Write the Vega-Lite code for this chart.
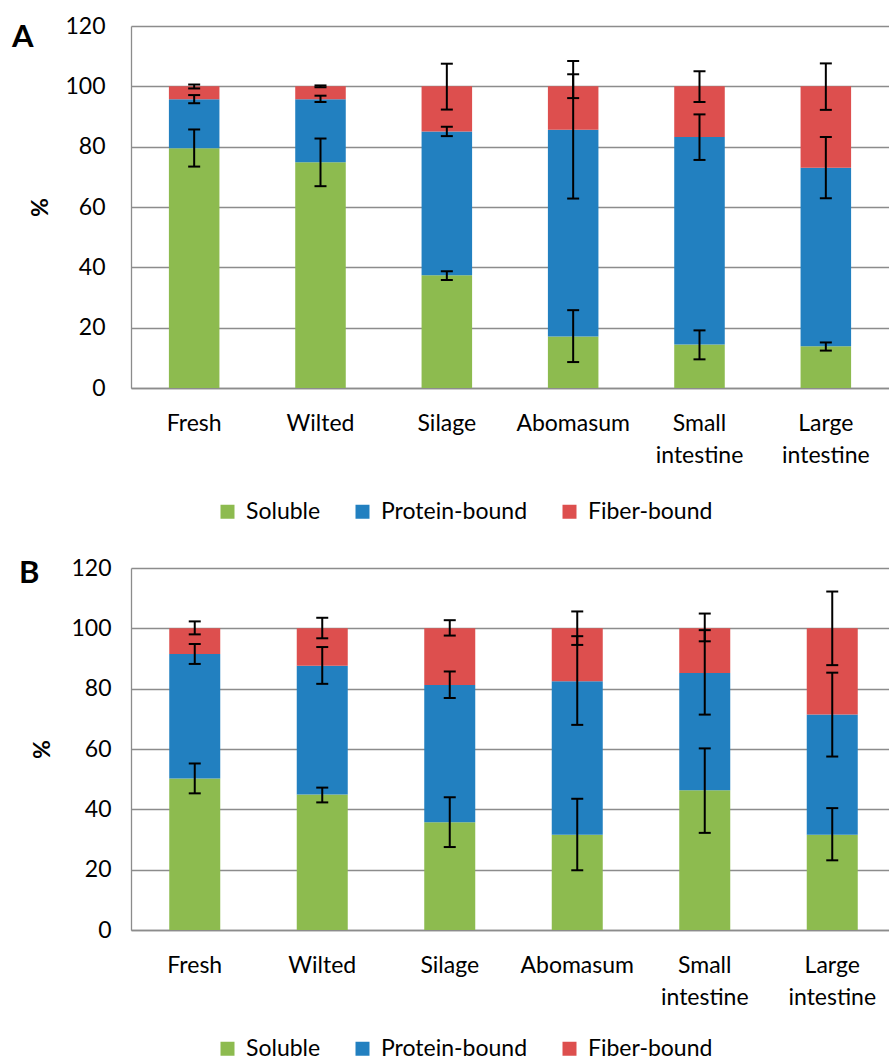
{
  "$schema": "https://vega.github.io/schema/vega-lite/v6.json",
  "padding": {"left": 12, "top": 15, "right": 0, "bottom": 0},
  "background": "white",
  "datasets": {
    "a": [
      {"stage": "Fresh", "comp": "Soluble", "ord": 1, "value": 79.5, "lo": 73.4, "hi": 85.7},
      {"stage": "Fresh", "comp": "Protein-bound", "ord": 2, "value": 16.2, "lo": 94.4, "hi": 97.1},
      {"stage": "Fresh", "comp": "Fiber-bound", "ord": 3, "value": 4.3, "lo": 99.3, "hi": 100.6},
      {"stage": "Wilted", "comp": "Soluble", "ord": 1, "value": 74.8, "lo": 66.9, "hi": 82.7},
      {"stage": "Wilted", "comp": "Protein-bound", "ord": 2, "value": 20.9, "lo": 94.8, "hi": 96.9},
      {"stage": "Wilted", "comp": "Fiber-bound", "ord": 3, "value": 4.3, "lo": 99.7, "hi": 100.3},
      {"stage": "Silage", "comp": "Soluble", "ord": 1, "value": 37.4, "lo": 35.8, "hi": 38.7},
      {"stage": "Silage", "comp": "Protein-bound", "ord": 2, "value": 47.6, "lo": 83.5, "hi": 86.6},
      {"stage": "Silage", "comp": "Fiber-bound", "ord": 3, "value": 15.0, "lo": 92.3, "hi": 107.5},
      {"stage": "Abomasum", "comp": "Soluble", "ord": 1, "value": 17.1, "lo": 8.6, "hi": 25.8},
      {"stage": "Abomasum", "comp": "Protein-bound", "ord": 2, "value": 68.5, "lo": 62.8, "hi": 108.4},
      {"stage": "Abomasum", "comp": "Fiber-bound", "ord": 3, "value": 14.4, "lo": 96.1, "hi": 104.0},
      {"stage": "Small intestine", "comp": "Soluble", "ord": 1, "value": 14.4, "lo": 9.5, "hi": 19.1},
      {"stage": "Small intestine", "comp": "Protein-bound", "ord": 2, "value": 68.8, "lo": 75.6, "hi": 90.7},
      {"stage": "Small intestine", "comp": "Fiber-bound", "ord": 3, "value": 16.8, "lo": 94.8, "hi": 105.0},
      {"stage": "Large intestine", "comp": "Soluble", "ord": 1, "value": 13.8, "lo": 12.4, "hi": 15.1},
      {"stage": "Large intestine", "comp": "Protein-bound", "ord": 2, "value": 59.2, "lo": 62.9, "hi": 83.2},
      {"stage": "Large intestine", "comp": "Fiber-bound", "ord": 3, "value": 27.0, "lo": 92.2, "hi": 107.6}
    ],
    "b": [
      {"stage": "Fresh", "comp": "Soluble", "ord": 1, "value": 50.2, "lo": 45.3, "hi": 55.2},
      {"stage": "Fresh", "comp": "Protein-bound", "ord": 2, "value": 41.3, "lo": 88.2, "hi": 94.8},
      {"stage": "Fresh", "comp": "Fiber-bound", "ord": 3, "value": 8.5, "lo": 98.0, "hi": 102.3},
      {"stage": "Wilted", "comp": "Soluble", "ord": 1, "value": 44.9, "lo": 42.3, "hi": 47.2},
      {"stage": "Wilted", "comp": "Protein-bound", "ord": 2, "value": 42.7, "lo": 81.6, "hi": 93.8},
      {"stage": "Wilted", "comp": "Fiber-bound", "ord": 3, "value": 12.4, "lo": 96.7, "hi": 103.5},
      {"stage": "Silage", "comp": "Soluble", "ord": 1, "value": 35.7, "lo": 27.5, "hi": 44.0},
      {"stage": "Silage", "comp": "Protein-bound", "ord": 2, "value": 45.5, "lo": 76.9, "hi": 85.7},
      {"stage": "Silage", "comp": "Fiber-bound", "ord": 3, "value": 18.8, "lo": 97.6, "hi": 102.7},
      {"stage": "Abomasum", "comp": "Soluble", "ord": 1, "value": 31.6, "lo": 19.8, "hi": 43.5},
      {"stage": "Abomasum", "comp": "Protein-bound", "ord": 2, "value": 50.9, "lo": 68.0, "hi": 97.4},
      {"stage": "Abomasum", "comp": "Fiber-bound", "ord": 3, "value": 17.5, "lo": 94.5, "hi": 105.6},
      {"stage": "Small intestine", "comp": "Soluble", "ord": 1, "value": 46.3, "lo": 32.2, "hi": 60.2},
      {"stage": "Small intestine", "comp": "Protein-bound", "ord": 2, "value": 38.9, "lo": 71.4, "hi": 99.4},
      {"stage": "Small intestine", "comp": "Fiber-bound", "ord": 3, "value": 14.8, "lo": 95.7, "hi": 104.9},
      {"stage": "Large intestine", "comp": "Soluble", "ord": 1, "value": 31.6, "lo": 23.1, "hi": 40.4},
      {"stage": "Large intestine", "comp": "Protein-bound", "ord": 2, "value": 39.8, "lo": 57.5, "hi": 85.3},
      {"stage": "Large intestine", "comp": "Fiber-bound", "ord": 3, "value": 28.6, "lo": 87.8, "hi": 112.2}
    ]
  },
  "config": {
    "font": "Lato",
    "view": {"stroke": null},
    "axis": {
      "labelFont": "Lato", "labelFontSize": 23, "labelColor": "#000000",
      "titleFont": "Lato", "titleColor": "#000000",
      "gridColor": "#8c8c8c", "gridWidth": 1.3, "gridOpacity": 1,
      "domainColor": "#8c8c8c", "domainWidth": 1.3,
      "ticks": false
    },
    "axisX": {"labelAngle": 0, "labelPadding": 24, "labelLineHeight": 32, "title": null, "grid": false},
    "title": {"font": "Lato", "fontSize": 31, "fontWeight": "bold", "anchor": "start", "frame": "group", "color": "#000000", "offset": 0, "baseline": "alphabetic"},
    "legend": {
      "orient": "none", "direction": "horizontal",
      "labelFont": "Lato", "labelFontSize": 23, "labelColor": "#000000",
      "symbolType": "square", "symbolSize": 196, "symbolStrokeWidth": 0, "symbolOpacity": 1,
      "labelOffset": 7, "columnPadding": 30, "legendX": 85, "legendY": 474
    }
  },
  "resolve": {"scale": {"color": "independent"}, "legend": {"color": "independent"}},
  "spacing": 33,
  "vconcat": [
    {
      "width": 758, "height": 362,
      "title": {"text": "A", "dx": -119, "dy": 43},
      "data": {"name": "a"},
      "layer": [
        {
          "mark": {"type": "bar"},
          "encoding": {
            "x": {"field": "stage", "type": "nominal", "sort": ["Fresh", "Wilted", "Silage", "Abomasum", "Small intestine", "Large intestine"], "scale": {"paddingInner": 0.6, "paddingOuter": 0.3}, "axis": {"labelExpr": "split(datum.label, ' ')"}},
            "y": {"field": "value", "type": "quantitative", "stack": "zero", "scale": {"domain": [0, 120], "nice": false}, "axis": {"values": [0, 20, 40, 60, 80, 100, 120], "title": "%", "titleFontWeight": "bold", "titleFontSize": 23, "titleX": -91, "titleBaseline": "middle", "labelPadding": 26, "grid": true}},
            "color": {"field": "comp", "type": "nominal", "scale": {"domain": ["Soluble", "Protein-bound", "Fiber-bound"], "range": ["#8DBB4F", "#2280C0", "#DD4F4E"]}, "legend": {"title": null}},
            "order": {"field": "ord"}
          }
        },
        {
          "mark": {"type": "rule", "strokeWidth": 2, "color": "#000000"},
          "encoding": {
            "x": {"field": "stage", "type": "nominal", "sort": ["Fresh", "Wilted", "Silage", "Abomasum", "Small intestine", "Large intestine"]},
            "y": {"field": "lo", "type": "quantitative", "title": "%"},
            "y2": {"field": "hi"}
          }
        },
        {
          "mark": {"type": "tick", "size": 12, "thickness": 2, "color": "#000000", "opacity": 1},
          "encoding": {
            "x": {"field": "stage", "type": "nominal", "sort": ["Fresh", "Wilted", "Silage", "Abomasum", "Small intestine", "Large intestine"]},
            "y": {"field": "lo", "type": "quantitative", "title": "%"}
          }
        },
        {
          "mark": {"type": "tick", "size": 12, "thickness": 2, "color": "#000000", "opacity": 1},
          "encoding": {
            "x": {"field": "stage", "type": "nominal", "sort": ["Fresh", "Wilted", "Silage", "Abomasum", "Small intestine", "Large intestine"]},
            "y": {"field": "hi", "type": "quantitative", "title": "%"}
          }
        }
      ]
    },
    {
      "width": 765, "height": 362,
      "title": {"text": "B", "dx": -112, "dy": 37},
      "data": {"name": "b"},
      "layer": [
        {
          "mark": {"type": "bar"},
          "encoding": {
            "x": {"field": "stage", "type": "nominal", "sort": ["Fresh", "Wilted", "Silage", "Abomasum", "Small intestine", "Large intestine"], "scale": {"paddingInner": 0.6, "paddingOuter": 0.3}, "axis": {"labelExpr": "split(datum.label, ' ')"}},
            "y": {"field": "value", "type": "quantitative", "stack": "zero", "scale": {"domain": [0, 120], "nice": false}, "axis": {"values": [0, 20, 40, 60, 80, 100, 120], "title": "%", "titleFontWeight": "bold", "titleFontSize": 23, "titleX": -89, "titleBaseline": "middle", "labelPadding": 20, "grid": true}},
            "color": {"field": "comp", "type": "nominal", "scale": {"domain": ["Soluble", "Protein-bound", "Fiber-bound"], "range": ["#8DBB4F", "#2280C0", "#DD4F4E"]}, "legend": {"title": null, "legendY": 469}},
            "order": {"field": "ord"}
          }
        },
        {
          "mark": {"type": "rule", "strokeWidth": 2, "color": "#000000"},
          "encoding": {
            "x": {"field": "stage", "type": "nominal", "sort": ["Fresh", "Wilted", "Silage", "Abomasum", "Small intestine", "Large intestine"]},
            "y": {"field": "lo", "type": "quantitative", "title": "%"},
            "y2": {"field": "hi"}
          }
        },
        {
          "mark": {"type": "tick", "size": 12, "thickness": 2, "color": "#000000", "opacity": 1},
          "encoding": {
            "x": {"field": "stage", "type": "nominal", "sort": ["Fresh", "Wilted", "Silage", "Abomasum", "Small intestine", "Large intestine"]},
            "y": {"field": "lo", "type": "quantitative", "title": "%"}
          }
        },
        {
          "mark": {"type": "tick", "size": 12, "thickness": 2, "color": "#000000", "opacity": 1},
          "encoding": {
            "x": {"field": "stage", "type": "nominal", "sort": ["Fresh", "Wilted", "Silage", "Abomasum", "Small intestine", "Large intestine"]},
            "y": {"field": "hi", "type": "quantitative", "title": "%"}
          }
        }
      ]
    }
  ]
}
